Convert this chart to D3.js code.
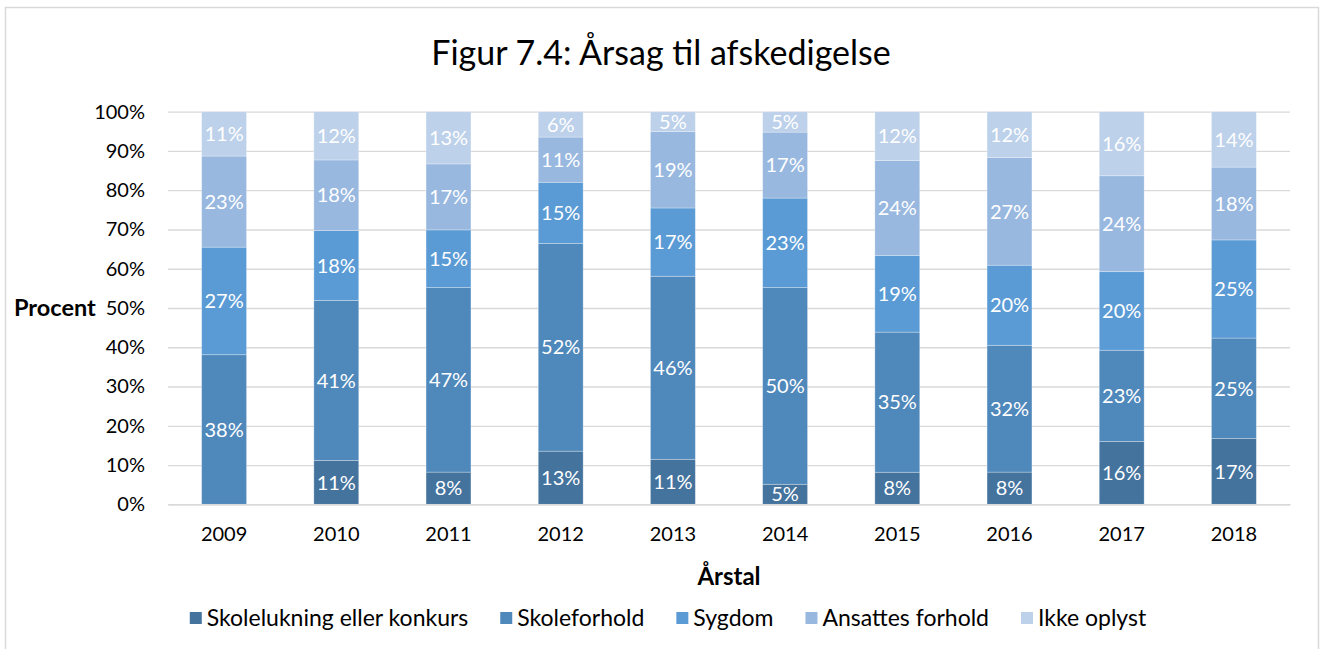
<!DOCTYPE html>
<html>
<head>
<meta charset="utf-8">
<script src="https://cdn.jsdelivr.net/npm/d3@7"></script>
<style>
  html, body { margin: 0; padding: 0; background: #fff; }
  svg { display: block; font-family: Lato, "Open Sans", sans-serif; }
</style>
</head>
<body>
<svg id="chart" width="1322" height="649"></svg>
<script>
// Årsag til afskedigelse, fordelt på år (procent af afskedigelser)
const years = ["2009", "2010", "2011", "2012", "2013", "2014", "2015", "2016", "2017", "2018"];
const seriesNames = ["Skolelukning eller konkurs", "Skoleforhold", "Sygdom", "Ansattes forhold", "Ikke oplyst"];
const skolelukning = [0, 11.2, 8.2, 13.4, 11.4, 5.1, 8.1, 8.2, 16.0, 16.6];
const skoleforhold = [38.1, 40.8, 47.0, 52.4, 46.4, 50.1, 35.4, 32.3, 23.2, 25.4];
const sygdom = [27.4, 17.8, 14.7, 15.4, 17.3, 22.8, 19.4, 20.4, 20.0, 24.8];
const ansattesForhold = [23.2, 18.0, 16.8, 11.4, 19.4, 16.8, 24.0, 27.4, 24.4, 18.4];
const ikkeOplyst = [11.3, 12.3, 13.3, 6.4, 5.0, 5.2, 12.3, 11.7, 16.3, 14.0];
const yTicks = [0, 0.1, 0.2, 0.3, 0.4, 0.5, 0.6, 0.7, 0.8, 0.9, 1.0];
const colors = ["#44739e", "#4f88bb", "#5b9bd5", "#98b8df", "#bdd1ea"];

const seriesValues = [skolelukning, skoleforhold, sygdom, ansattesForhold, ikkeOplyst];
const rows = years.map((y, i) => {
  const r = { year: y };
  seriesNames.forEach((s, k) => { r[s] = seriesValues[k][i]; });
  return r;
});

const svg = d3.select("#chart");
const W = 1322, H = 649;
const plot = { left: 168, right: 1290, top: 111.7, bottom: 504.3 };

// outer frame
svg.append("rect")
  .attr("x", 5.5).attr("y", 7.5)
  .attr("width", 1313).attr("height", H + 20)
  .attr("fill", "#fff")
  .attr("stroke", "#d9d9d9").attr("stroke-width", 1.5);

// title
svg.append("text")
  .attr("x", 661).attr("y", 65)
  .attr("text-anchor", "middle")
  .attr("font-size", 34)
  .attr("fill", "#000")
  .text("Figur 7.4: Årsag til afskedigelse");

const x = d3.scaleBand().domain(years).range([plot.left, plot.right]).paddingInner(0.6).paddingOuter(0.3);
const y = d3.scaleLinear().domain([0, 1]).range([plot.bottom, plot.top]);

// gridlines + y tick labels
const yAxis = svg.append("g")
  .attr("transform", `translate(${plot.left},0)`)
  .call(d3.axisLeft(y).tickValues(yTicks).tickFormat(d3.format(".0%"))
    .tickSize(-(plot.right - plot.left)).tickPadding(23));
yAxis.select(".domain").remove();
yAxis.selectAll(".tick line").attr("stroke", "#d9d9d9").attr("stroke-width", 1.3);
yAxis.selectAll(".tick text").attr("font-size", 20).attr("font-family", "Lato, sans-serif").attr("fill", "#000");

// 100% stacked columns
const stack = d3.stack().keys(seriesNames).offset(d3.stackOffsetExpand);
const layers = stack(rows);

const layerG = svg.append("g").selectAll("g")
  .data(layers).join("g")
  .attr("fill", (d, i) => colors[i]);

layerG.selectAll("rect")
  .data(d => d.filter(p => p.data[d.key] > 0))
  .join("rect")
  .attr("x", d => x(d.data.year))
  .attr("width", x.bandwidth())
  .attr("y", d => y(d[1]))
  .attr("height", d => y(d[0]) - y(d[1]))
  .attr("stroke", "rgba(255,255,255,0.35)")
  .attr("stroke-width", 0.8);

// value labels
const fmt = d3.format(".0f");
layers.forEach(layer => {
  svg.append("g").selectAll("text")
    .data(layer.filter(p => p.data[layer.key] > 0))
    .join("text")
    .attr("x", d => x(d.data.year) + x.bandwidth() / 2)
    .attr("y", d => (y(d[0]) + y(d[1])) / 2)
    .attr("dy", "0.36em")
    .attr("text-anchor", "middle")
    .attr("font-size", 20)
    .attr("fill", "#fff")
    .text(d => fmt(d.data[layer.key]) + "%");
});

// x axis
const xAxis = svg.append("g")
  .attr("transform", `translate(0,${plot.bottom})`)
  .call(d3.axisBottom(x).tickSize(0).tickPadding(23));
xAxis.select(".domain").attr("stroke", "#d9d9d9").attr("stroke-width", 1.5);
xAxis.selectAll(".tick text").attr("font-size", 20).attr("font-family", "Lato, sans-serif").attr("fill", "#000");

// axis titles
svg.append("text")
  .attr("x", (plot.left + plot.right) / 2).attr("y", 585)
  .attr("text-anchor", "middle")
  .attr("font-size", 24).attr("font-weight", "bold")
  .text("Årstal");

svg.append("text")
  .attr("x", 14).attr("y", (plot.top + plot.bottom) / 2)
  .attr("dy", "0.36em")
  .attr("font-size", 23.5).attr("font-weight", "bold")
  .text("Procent");

// legend
const legend = svg.append("g");
const items = legend.selectAll("g").data(seriesNames).join("g");
items.append("rect")
  .attr("width", 12).attr("height", 12)
  .attr("y", -6)
  .attr("fill", (d, i) => colors[i]);
items.append("text")
  .attr("x", 17).attr("dy", "0.36em")
  .attr("font-size", 23)
  .text(d => d);
let cursor = 0;
items.each(function () {
  const g = d3.select(this);
  g.attr("transform", `translate(${cursor},0)`);
  cursor += 17 + g.select("text").node().getComputedTextLength() + 32;
});
const legendWidth = cursor - 32;
legend.attr("transform", `translate(${668 - legendWidth / 2},618)`);
</script>
</body>
</html>
